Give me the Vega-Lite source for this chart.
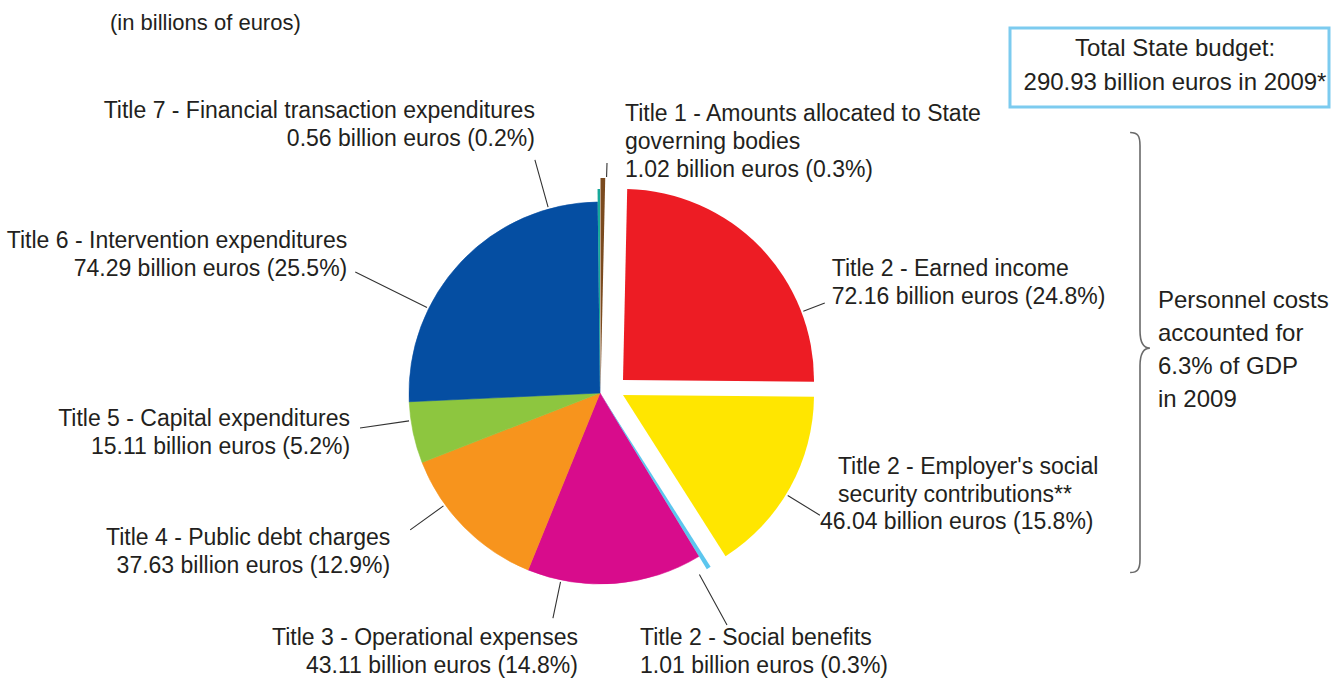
{
  "$schema": "https://vega.github.io/schema/vega-lite/v6.json",
  "width": 1200,
  "height": 786,
  "padding": 0,
  "autosize": {"type": "pad"},
  "background": "white",
  "config": {"view": {"stroke": null}, "text": {"font": "Liberation Sans", "color": "#231F20"}},
  "datasets": {
    "budget": [
      {"order": 1, "id": "T1", "label": "Title 1 - Amounts allocated to State\ngoverning bodies", "amount": "1.02 billion euros (0.3%)", "value": 1.02},
      {"order": 2, "id": "T2E", "label": "Title 2 - Earned income", "amount": "72.16 billion euros (24.8%)", "value": 72.16},
      {"order": 3, "id": "T2S", "label": "Title 2 - Employer's social\nsecurity contributions**", "amount": "46.04 billion euros (15.8%)", "value": 46.04},
      {"order": 4, "id": "T2B", "label": "Title 2 - Social benefits", "amount": "1.01 billion euros (0.3%)", "value": 1.01},
      {"order": 5, "id": "T3", "label": "Title 3 - Operational expenses", "amount": "43.11 billion euros (14.8%)", "value": 43.11},
      {"order": 6, "id": "T4", "label": "Title 4 - Public debt charges", "amount": "37.63 billion euros (12.9%)", "value": 37.63},
      {"order": 7, "id": "T5", "label": "Title 5 - Capital expenditures", "amount": "15.11 billion euros (5.2%)", "value": 15.11},
      {"order": 8, "id": "T6", "label": "Title 6 - Intervention expenditures", "amount": "74.29 billion euros (25.5%)", "value": 74.29},
      {"order": 9, "id": "T7", "label": "Title 7 - Financial transaction expenditures", "amount": "0.56 billion euros (0.2%)", "value": 0.56}
    ]
  },
  "layer": [
    {
      "data": {"name": "budget"},
      "transform": [
        {"window": [{"op": "sum", "field": "value", "as": "end"}], "sort": [{"field": "order", "order": "ascending"}], "frame": [null, 0]},
        {"calculate": "datum.end - datum.value", "as": "start"},
        {"calculate": "datum.end - datum.value / 2", "as": "mid"},
        {"calculate": "datum.label + '\\n' + datum.amount", "as": "full"}
      ],
      "layer": [
        {
          "transform": [{"filter": "indexof(['T3','T4','T5','T6'], datum.id) >= 0"}],
          "mark": {"type": "arc", "radius": 191, "strokeWidth": 0.6},
          "encoding": {
            "theta": {"field": "start", "type": "quantitative", "scale": {"domain": [0, 290.93], "range": [0, 6.283185307179586]}},
            "theta2": {"field": "end"},
            "color": {"field": "id", "type": "nominal", "legend": null, "scale": {"domain": ["T1","T2E","T2S","T2B","T3","T4","T5","T6","T7"], "range": ["#7B4A1E","#ED1C24","#FFE600","#5CC6EE","#D80C8C","#F7941D","#8DC63F","#054EA2","#17A99B"]}},
            "stroke": {"field": "id", "type": "nominal", "legend": null, "scale": {"domain": ["T1","T2E","T2S","T2B","T3","T4","T5","T6","T7"], "range": ["#7B4A1E","#ED1C24","#FFE600","#5CC6EE","#D80C8C","#F7941D","#8DC63F","#054EA2","#17A99B"]}}
          }
        },
        {
          "transform": [{"filter": "datum.id == 'T7'"}],
          "mark": {"type": "arc", "radius": 204},
          "encoding": {
            "theta": {"field": "start", "type": "quantitative", "scale": {"domain": [0, 290.93], "range": [0, 6.283185307179586]}},
            "theta2": {"field": "end"},
            "color": {"field": "id", "type": "nominal", "legend": null}
          }
        },
        {
          "transform": [{"filter": "datum.id == 'T1'"}],
          "mark": {"type": "arc", "radius": 215, "xOffset": 0.5},
          "encoding": {
            "theta": {"field": "start", "type": "quantitative", "scale": {"domain": [0, 290.93], "range": [0, 6.283185307179586]}},
            "theta2": {"field": "end"},
            "color": {"field": "id", "type": "nominal", "legend": null}
          }
        },
        {
          "transform": [{"filter": "datum.id == 'T2E'"}],
          "mark": {"type": "arc", "radius": 191, "xOffset": 23, "yOffset": -13},
          "encoding": {
            "theta": {"field": "start", "type": "quantitative", "scale": {"domain": [0, 290.93], "range": [0, 6.283185307179586]}},
            "theta2": {"field": "end"},
            "color": {"field": "id", "type": "nominal", "legend": null}
          }
        },
        {
          "transform": [{"filter": "datum.id == 'T2S'"}],
          "mark": {"type": "arc", "radius": 191, "xOffset": 23, "yOffset": 2},
          "encoding": {
            "theta": {"field": "start", "type": "quantitative", "scale": {"domain": [0, 290.93], "range": [0, 6.283185307179586]}},
            "theta2": {"field": "end"},
            "color": {"field": "id", "type": "nominal", "legend": null}
          }
        },
        {
          "transform": [{"filter": "datum.id == 'T2B'"}],
          "mark": {"type": "arc", "radius": 206},
          "encoding": {
            "theta": {"field": "start", "type": "quantitative", "scale": {"domain": [0, 290.93], "range": [0, 6.283185307179586]}},
            "theta2": {"field": "end"},
            "color": {"field": "id", "type": "nominal", "legend": null}
          }
        },
        {
          "transform": [{"filter": "datum.id == 'T7'"}, {"calculate": "datum.mid - 12.33", "as": "la"}],
          "layer": [
            {"mark": {"type": "arc", "stroke": "#333333", "strokeWidth": 1.1, "fillOpacity": 0},
             "encoding": {"theta": {"field": "la", "type": "quantitative", "scale": {"domain": [0, 290.93], "range": [0, 6.283185307179586]}}, "theta2": {"field": "la"}, "radius": {"value": 193}, "radius2": {"value": 242}}},
            {"mark": {"type": "text", "align": "right", "baseline": "alphabetic", "dx": 0, "dy": -42, "fontSize": 23, "lineHeight": 28, "lineBreak": "\n"},
             "encoding": {"theta": {"field": "la", "type": "quantitative", "stack": null, "scale": {"domain": [0, 290.93], "range": [0, 6.283185307179586]}}, "radius": {"value": 242}, "text": {"field": "full"}}}
          ]
        },
        {
          "transform": [{"filter": "datum.id == 'T1'"}, {"calculate": "datum.mid + 0.9", "as": "la"}],
          "layer": [
            {"mark": {"type": "arc", "stroke": "#333333", "strokeWidth": 1.1, "fillOpacity": 0},
             "encoding": {"theta": {"field": "la", "type": "quantitative", "scale": {"domain": [0, 290.93], "range": [0, 6.283185307179586]}}, "theta2": {"field": "la"}, "radius": {"value": 216}, "radius2": {"value": 230}}},
            {"mark": {"type": "text", "align": "left", "baseline": "alphabetic", "dx": 18, "dy": -42, "fontSize": 23, "lineHeight": 28, "lineBreak": "\n"},
             "encoding": {"theta": {"field": "la", "type": "quantitative", "stack": null, "scale": {"domain": [0, 290.93], "range": [0, 6.283185307179586]}}, "radius": {"value": 230}, "text": {"field": "full"}}}
          ]
        },
        {
          "transform": [{"filter": "datum.id == 'T6'"}, {"calculate": "datum.mid - 13.77", "as": "la"}],
          "layer": [
            {"mark": {"type": "arc", "stroke": "#333333", "strokeWidth": 1.1, "fillOpacity": 0},
             "encoding": {"theta": {"field": "la", "type": "quantitative", "scale": {"domain": [0, 290.93], "range": [0, 6.283185307179586]}}, "theta2": {"field": "la"}, "radius": {"value": 193}, "radius2": {"value": 273}}},
            {"mark": {"type": "text", "align": "right", "baseline": "alphabetic", "dx": -8, "dy": -24, "fontSize": 23, "lineHeight": 28, "lineBreak": "\n"},
             "encoding": {"theta": {"field": "la", "type": "quantitative", "stack": null, "scale": {"domain": [0, 290.93], "range": [0, 6.283185307179586]}}, "radius": {"value": 273}, "text": {"field": "full"}}}
          ]
        },
        {
          "transform": [{"filter": "datum.id == 'T2E'"}, {"calculate": "datum.mid + 18.74", "as": "la"}],
          "layer": [
            {"mark": {"type": "arc", "stroke": "#333333", "strokeWidth": 1.1, "fillOpacity": 0, "xOffset": 23, "yOffset": -13},
             "encoding": {"theta": {"field": "la", "type": "quantitative", "scale": {"domain": [0, 290.93], "range": [0, 6.283185307179586]}}, "theta2": {"field": "la"}, "radius": {"value": 193}, "radius2": {"value": 216}}},
            {"mark": {"type": "text", "align": "left", "baseline": "alphabetic", "xOffset": 23, "yOffset": -13, "dx": 7, "dy": -27, "fontSize": 23, "lineHeight": 28, "lineBreak": "\n"},
             "encoding": {"theta": {"field": "la", "type": "quantitative", "stack": null, "scale": {"domain": [0, 290.93], "range": [0, 6.283185307179586]}}, "radius": {"value": 216}, "text": {"field": "full"}}}
          ]
        },
        {
          "transform": [{"filter": "datum.id == 'T2S'"}, {"calculate": "datum.mid + 1.91", "as": "la"}],
          "layer": [
            {"mark": {"type": "arc", "stroke": "#333333", "strokeWidth": 1.1, "fillOpacity": 0, "xOffset": 23, "yOffset": 2},
             "encoding": {"theta": {"field": "la", "type": "quantitative", "scale": {"domain": [0, 290.93], "range": [0, 6.283185307179586]}}, "theta2": {"field": "la"}, "radius": {"value": 193}, "radius2": {"value": 230.7}}},
            {"mark": {"type": "text", "align": "left", "baseline": "alphabetic", "xOffset": 23, "yOffset": 2, "dx": 18, "dy": -41, "fontSize": 23, "lineHeight": 28, "lineBreak": "\n"},
             "encoding": {"theta": {"field": "la", "type": "quantitative", "stack": null, "scale": {"domain": [0, 290.93], "range": [0, 6.283185307179586]}}, "radius": {"value": 230.7}, "text": {"field": "label"}}},
            {"mark": {"type": "text", "align": "left", "baseline": "alphabetic", "xOffset": 23, "yOffset": 2, "dx": 0, "dy": 14, "fontSize": 23},
             "encoding": {"theta": {"field": "la", "type": "quantitative", "stack": null, "scale": {"domain": [0, 290.93], "range": [0, 6.283185307179586]}}, "radius": {"value": 230.7}, "text": {"field": "amount"}}}
          ]
        },
        {
          "transform": [{"filter": "datum.id == 'T2B'"}, {"calculate": "datum.mid + 2.55", "as": "la"}],
          "layer": [
            {"mark": {"type": "arc", "stroke": "#333333", "strokeWidth": 1.1, "fillOpacity": 0},
             "encoding": {"theta": {"field": "la", "type": "quantitative", "scale": {"domain": [0, 290.93], "range": [0, 6.283185307179586]}}, "theta2": {"field": "la"}, "radius": {"value": 207}, "radius2": {"value": 264.5}}},
            {"mark": {"type": "text", "align": "left", "baseline": "alphabetic", "dx": -87, "dy": 20, "fontSize": 23, "lineHeight": 28, "lineBreak": "\n"},
             "encoding": {"theta": {"field": "la", "type": "quantitative", "stack": null, "scale": {"domain": [0, 290.93], "range": [0, 6.283185307179586]}}, "radius": {"value": 264.5}, "text": {"field": "full"}}}
          ]
        },
        {
          "transform": [{"filter": "datum.id == 'T3'"}, {"calculate": "datum.mid + 13.22", "as": "la"}],
          "layer": [
            {"mark": {"type": "arc", "stroke": "#333333", "strokeWidth": 1.1, "fillOpacity": 0},
             "encoding": {"theta": {"field": "la", "type": "quantitative", "scale": {"domain": [0, 290.93], "range": [0, 6.283185307179586]}}, "theta2": {"field": "la"}, "radius": {"value": 193}, "radius2": {"value": 230}}},
            {"mark": {"type": "text", "align": "right", "baseline": "alphabetic", "dx": 25, "dy": 27, "fontSize": 23, "lineHeight": 28, "lineBreak": "\n"},
             "encoding": {"theta": {"field": "la", "type": "quantitative", "stack": null, "scale": {"domain": [0, 290.93], "range": [0, 6.283185307179586]}}, "radius": {"value": 230}, "text": {"field": "full"}}}
          ]
        },
        {
          "transform": [{"filter": "datum.id == 'T4'"}, {"calculate": "datum.mid + 7.11", "as": "la"}],
          "layer": [
            {"mark": {"type": "arc", "stroke": "#333333", "strokeWidth": 1.1, "fillOpacity": 0},
             "encoding": {"theta": {"field": "la", "type": "quantitative", "scale": {"domain": [0, 290.93], "range": [0, 6.283185307179586]}}, "theta2": {"field": "la"}, "radius": {"value": 193}, "radius2": {"value": 234}}},
            {"mark": {"type": "text", "align": "right", "baseline": "alphabetic", "dx": -20, "dy": 15, "fontSize": 23, "lineHeight": 28, "lineBreak": "\n"},
             "encoding": {"theta": {"field": "la", "type": "quantitative", "stack": null, "scale": {"domain": [0, 290.93], "range": [0, 6.283185307179586]}}, "radius": {"value": 234}, "text": {"field": "full"}}}
          ]
        },
        {
          "transform": [{"filter": "datum.id == 'T5'"}, {"calculate": "datum.mid + 2.96", "as": "la"}],
          "layer": [
            {"mark": {"type": "arc", "stroke": "#333333", "strokeWidth": 1.1, "fillOpacity": 0},
             "encoding": {"theta": {"field": "la", "type": "quantitative", "scale": {"domain": [0, 290.93], "range": [0, 6.283185307179586]}}, "theta2": {"field": "la"}, "radius": {"value": 193}, "radius2": {"value": 242.5}}},
            {"mark": {"type": "text", "align": "right", "baseline": "alphabetic", "dx": -10, "dy": -2, "fontSize": 23, "lineHeight": 28, "lineBreak": "\n"},
             "encoding": {"theta": {"field": "la", "type": "quantitative", "stack": null, "scale": {"domain": [0, 290.93], "range": [0, 6.283185307179586]}}, "radius": {"value": 242.5}, "text": {"field": "full"}}}
          ]
        }
      ]
    },
    {
      "data": {"values": [{"note": "(in billions of euros)"}]},
      "mark": {"type": "text", "align": "left", "baseline": "alphabetic", "fontSize": 22},
      "encoding": {"x": {"value": 110}, "y": {"value": 30}, "text": {"field": "note"}}
    },
    {
      "data": {"values": [{"note": "Total State budget:\n290.93 billion euros in 2009*"}]},
      "layer": [
        {"mark": {"type": "rect", "fill": "transparent", "stroke": "#7CCBEF", "strokeWidth": 3},
         "encoding": {"x": {"value": 1010}, "x2": {"value": 1329}, "y": {"value": 28}, "y2": {"value": 107}}},
        {"mark": {"type": "text", "align": "center", "baseline": "alphabetic", "fontSize": 24, "lineHeight": 34, "lineBreak": "\n"},
         "encoding": {"x": {"value": 1175}, "y": {"value": 56}, "text": {"field": "note"}}}
      ]
    },
    {
      "data": {"values": [{"note": "Personnel costs\naccounted for\n6.3% of GDP\nin 2009"}]},
      "layer": [
        {"mark": {"type": "point", "shape": "M-0.045,-1 C-0.01,-1 0,-0.985 0,-0.94 L0,-0.1 C0,-0.04 0.02,-0.02 0.045,-0.02 C0.02,-0.02 0,0 0,0.06 L0,0.94 C0,0.985 -0.01,1 -0.045,1", "size": 193600, "filled": false, "stroke": "#6A6A6A", "strokeWidth": 1.6, "opacity": 1},
         "encoding": {"x": {"value": 1140}, "y": {"value": 352.5}}},
        {"mark": {"type": "text", "align": "left", "baseline": "alphabetic", "fontSize": 24, "lineHeight": 33, "lineBreak": "\n"},
         "encoding": {"x": {"value": 1158}, "y": {"value": 308}, "text": {"field": "note"}}}
      ]
    }
  ]
}
